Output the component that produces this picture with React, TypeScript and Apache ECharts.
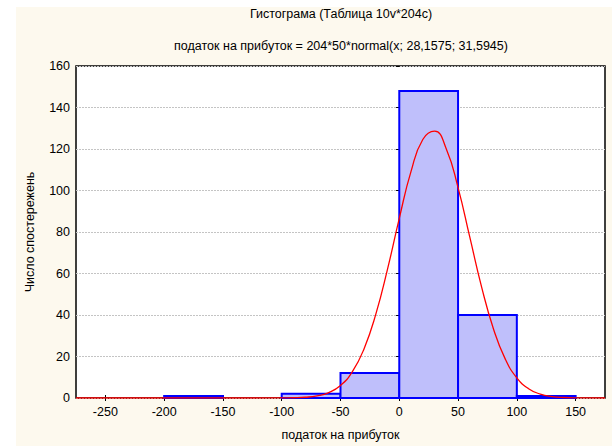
import React, { useEffect, useRef } from "react";
import * as echarts from "echarts";

const titleText = "Гистограма (Таблица 10v*204c)";
const subtitleText = "податок на прибуток = 204*50*normal(x; 28,1575; 31,5945)";
const xAxisName = "податок на прибуток";
const yAxisName = "Число спостережень";

const binStarts = [-250, -200, -150, -100, -50, 0, 50, 100];
const binWidth = 50;
const binCounts = [0, 1, 0, 2, 12, 148, 40, 1];

const xTicks = [-250, -200, -150, -100, -50, 0, 50, 100, 150];

const curveX = [-275, -250, -200, -150, -100, -90, -80, -70, -60, -50, -40, -30, -20, -10, 0, 10, 20, 30, 40, 50, 60, 70, 80, 90, 100, 110, 120, 130, 140, 150, 175];
const curveY = [0, 0, 0, 0, 0.03, 0.12, 0.37, 1.03, 2.63, 6.04, 12.57, 23.67, 40.31, 62.11, 86.58, 109.19, 124.57, 128.58, 120.06, 101.42, 77.51, 53.59, 33.52, 18.97, 9.71, 4.49, 1.88, 0.71, 0.25, 0.08, 0];

const FONT = "Liberation Sans, Arial, sans-serif";
const FS = 12.5;

export default function App() {
  const ref = useRef<HTMLDivElement>(null);
  useEffect(() => {
    if (!ref.current) return;
    const chart = echarts.init(ref.current, null, { renderer: "svg" });
    const bars = binStarts
      .map((s, i) => [s, s + binWidth, binCounts[i]])
      .filter((d) => d[2] > 0);
    const curve = curveX.map((x, i) => [x, curveY[i]]);
    chart.setOption({
      animation: false,
      backgroundColor: "transparent",
      textStyle: { fontFamily: FONT },
      graphic: [
        {
          type: "rect",
          z: -10,
          silent: true,
          shape: { x: 16, y: 7, width: 612 - 16, height: 446 - 7 },
          style: { fill: "#fdf9ee" },
        },
        {
          type: "text",
          x: 341,
          y: 14,
          style: { text: titleText, font: `${FS}px ${FONT}`, fill: "#000", align: "center", verticalAlign: "middle" },
        },
        {
          type: "text",
          x: 341,
          y: 46,
          style: { text: subtitleText, font: `${FS}px ${FONT}`, fill: "#000", align: "center", verticalAlign: "middle" },
        },
      ],
      grid: {
        left: 76,
        top: 66,
        right: 7,
        bottom: 46,
        show: true,
        backgroundColor: "#ffffff",
        borderColor: "#000",
        borderWidth: 1.5,
        containLabel: false,
      },
      xAxis: [
        {
          type: "value",
          min: -275,
          max: 175,
          name: xAxisName,
          nameLocation: "middle",
          nameGap: 30,
          nameTextStyle: { fontSize: FS, color: "#000", fontFamily: FONT },
          axisLine: { show: false },
          axisTick: { show: true, inside: true, length: 3, customValues: xTicks, lineStyle: { color: "#000" } },
          axisLabel: { customValues: xTicks, fontSize: FS, color: "#000", margin: 7, fontFamily: FONT },
          splitLine: { show: false },
        },
        {
          type: "value",
          position: "top",
          min: -275,
          max: 175,
          axisLine: { show: false },
          axisTick: { show: true, inside: true, length: 3, customValues: xTicks, lineStyle: { color: "#000" } },
          axisLabel: { show: false },
          splitLine: { show: false },
        },
      ],
      yAxis: [
        {
          type: "value",
          min: 0,
          max: 160,
          interval: 20,
          name: yAxisName,
          nameLocation: "middle",
          nameGap: 40,
          nameTextStyle: { fontSize: FS, color: "#000", fontFamily: FONT },
          axisLine: { show: false },
          axisTick: { show: true, inside: false, length: 3, lineStyle: { color: "#000" } },
          axisLabel: { fontSize: FS, color: "#000", margin: 6, fontFamily: FONT },
          splitLine: { show: true, lineStyle: { color: "#c4c4c4", type: [2, 1], width: 1 } },
        },
        {
          type: "value",
          position: "right",
          min: 0,
          max: 160,
          interval: 20,
          axisLine: { show: false },
          axisTick: { show: true, inside: true, length: 3, lineStyle: { color: "#000" } },
          axisLabel: { show: false },
          splitLine: { show: false },
        },
      ],
      series: [
        {
          type: "custom",
          xAxisIndex: 0,
          yAxisIndex: 0,
          data: bars,
          encode: { x: [0, 1], y: 2 },
          renderItem: (params: any, api: any) => {
            const x0 = api.value(0);
            const x1 = api.value(1);
            const v = api.value(2);
            const p0 = api.coord([x0, v]);
            const p1 = api.coord([x1, 0]);
            return {
              type: "rect",
              shape: { x: p0[0], y: p0[1], width: p1[0] - p0[0], height: p1[1] - p0[1] },
              style: { fill: "#bfbffb", stroke: "#0000ff", lineWidth: 2 },
            };
          },
          z: 2,
        },
        {
          type: "line",
          xAxisIndex: 0,
          yAxisIndex: 0,
          data: curve,
          smooth: true,
          symbol: "none",
          lineStyle: { color: "#ff0000", width: 1.3 },
          z: 3,
        },
      ],
    });
    return () => chart.dispose();
  }, []);
  return (
    <div
      ref={ref}
      style={{ position: "fixed", left: 0, top: 0, width: 612, height: 446, background: "#ffffff" }}
    />
  );
}
